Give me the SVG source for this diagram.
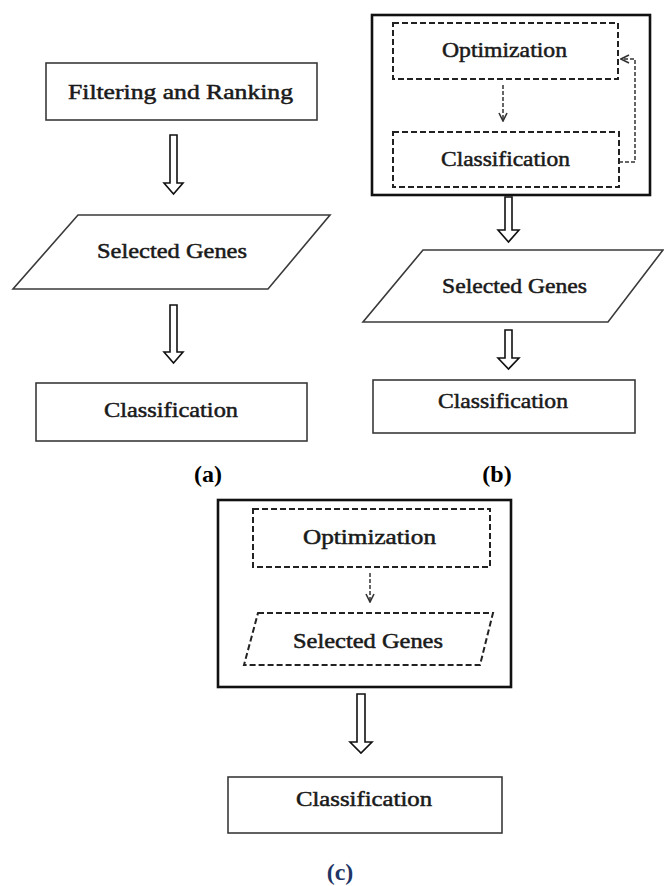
<svg xmlns="http://www.w3.org/2000/svg" width="664" height="886" viewBox="0 0 664 886">
<defs>
<style>
.box{fill:#fff;stroke:#3a3a3a;stroke-width:1.6}
.outer{fill:#fff;stroke:#111;stroke-width:2.6}
.dash{fill:none;stroke:#222;stroke-width:2;stroke-dasharray:6 3}
.dline{fill:none;stroke:#333;stroke-width:1.5;stroke-dasharray:4 2}
.harrow{fill:#fff;stroke:#111;stroke-width:1.6;stroke-linejoin:miter}
.t{font-family:'Liberation Serif','Times New Roman',serif;font-size:21px;font-weight:normal;fill:#1a1a1a;stroke:#1a1a1a;stroke-width:0.5}
.lab{font-family:'Liberation Serif','Times New Roman',serif;font-size:24px;font-weight:bold;fill:#000;text-anchor:middle}
</style>
<marker id="open" viewBox="0 0 10 10" refX="9" refY="5" markerWidth="10" markerHeight="10" markerUnits="userSpaceOnUse" orient="auto">
<path d="M1 1 L9 5 L1 9" fill="none" stroke="#333" stroke-width="1.6"/>
</marker>
</defs>
<rect width="664" height="886" fill="#fff"/>

<!-- Panel (a) -->
<g id="a-filter"><rect class="box" x="46" y="63" width="271" height="57"/><text class="t" x="68" y="99" textLength="225" lengthAdjust="spacingAndGlyphs">Filtering and Ranking</text></g>
<g id="a-genes"><polygon class="box" points="78,215 330,215 268,289 13,289"/><text class="t" x="97" y="258" textLength="150" lengthAdjust="spacingAndGlyphs">Selected Genes</text></g>
<g id="a-class"><rect class="box" x="36" y="383" width="271" height="58"/><text class="t" x="104" y="417" textLength="134" lengthAdjust="spacingAndGlyphs">Classification</text></g>
<text class="lab" x="208" y="482">(a)</text>

<!-- Panel (b) -->
<g id="b-outer"><rect class="outer" x="372" y="15" width="278" height="180"/></g>
<g id="b-opt"><rect class="dash" x="393" y="23" width="225" height="56"/><text class="t" x="442" y="57" textLength="125" lengthAdjust="spacingAndGlyphs">Optimization</text></g>
<g id="b-cls"><rect class="dash" x="393" y="132" width="226" height="55"/><text class="t" x="441" y="166" textLength="129" lengthAdjust="spacingAndGlyphs">Classification</text></g>
<g id="b-genes"><polygon class="box" points="423,250 663,250 608,322 363,322"/><text class="t" x="442" y="293" textLength="145" lengthAdjust="spacingAndGlyphs">Selected Genes</text></g>
<g id="b-class"><rect class="box" x="373" y="380" width="262" height="53"/><text class="t" x="438" y="408" textLength="130" lengthAdjust="spacingAndGlyphs">Classification</text></g>
<text class="lab" x="497" y="482">(b)</text>

<!-- Panel (c) -->
<g id="c-outer"><rect class="outer" x="218" y="500" width="293" height="187"/></g>
<g id="c-opt"><rect class="dash" x="253" y="509" width="237" height="58"/><text class="t" x="303" y="544" textLength="133" lengthAdjust="spacingAndGlyphs">Optimization</text></g>
<g id="c-genes"><polygon class="dash" points="258,613 493,613 480,665 244,665"/><text class="t" x="293" y="648" textLength="150" lengthAdjust="spacingAndGlyphs">Selected Genes</text></g>
<g id="c-class"><rect class="box" x="228" y="777" width="274" height="56"/><text class="t" x="296" y="806" textLength="136" lengthAdjust="spacingAndGlyphs">Classification</text></g>
<text class="lab" x="340" y="880" style="fill:#1f3566">(c)</text>

<!-- Connectors -->
<g id="connectors">
<polygon class="harrow" points="170,135 177,135 177,183 183,183 173.5,194 164,183 170,183"/>
<polygon class="harrow" points="170,305 177,305 177,352 183,352 173.5,363 164,352 170,352"/>
<polygon class="harrow" points="505,197 512,197 512,230 519,230 508.5,242 498,230 505,230"/>
<polygon class="harrow" points="505,330 512,330 512,358 519,358 508.5,369 498,358 505,358"/>
<polygon class="harrow" points="357,694 365,694 365,742 372,742 361,753 350,742 357,742"/>
<path class="dline" d="M503 85 V121" marker-end="url(#open)"/>
<path class="dline" d="M370 573 V602" marker-end="url(#open)"/>
<path class="dline" d="M619 162 H635 V59 H621" marker-end="url(#open)"/>
</g>
</svg>
